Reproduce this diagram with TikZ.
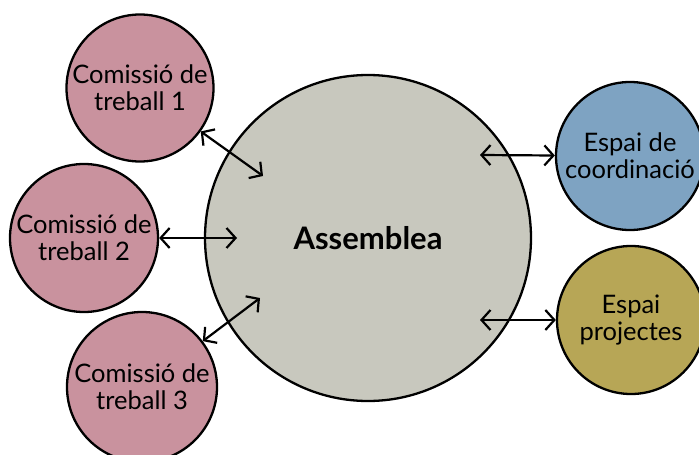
\documentclass[tikz,border=0pt]{standalone}
\usepackage{fontspec}
\setmainfont{Lato}
\usetikzlibrary{arrows.meta}
\definecolor{pinkc}{RGB}{201,146,158}
\definecolor{grayc}{RGB}{200,200,190}
\definecolor{bluec}{RGB}{126,163,194}
\definecolor{goldc}{RGB}{183,166,86}
\begin{document}
\begin{tikzpicture}[x=1pt,y=-1pt,
  bubble/.style={circle,draw=black,line width=2.3pt,inner sep=0pt,align=center,font=\fontsize{25.5}{27}\selectfont},
  link/.style={line width=2.2pt,{Straight Barb[length=9pt,width=20pt]}-{Straight Barb[length=9pt,width=20pt]}}]
\useasboundingbox (0,0) rectangle (699,455);
\clip (0,0) rectangle (699,455);
\node[bubble,fill=grayc,minimum size=326pt,font=\bfseries\fontsize{31}{34}\selectfont] (A) at (368,238) {Assemblea};
\node[bubble,fill=pinkc,minimum size=147pt] (C1) at (140,88) {Comissió de\\treball 1};
\node[bubble,fill=pinkc,minimum size=148pt] (C2) at (84,238) {Comissió de\\treball 2};
\node[bubble,fill=pinkc,minimum size=150pt] (C3) at (142,387) {Comissió de\\treball 3};
\node[bubble,fill=bluec,minimum size=148pt] (E1) at (630,156) {Espai de\\coordinació};
\node[bubble,fill=goldc,minimum size=148pt] (E2) at (631,320) {Espai\\projectes};
\coordinate (a1) at (263,176);
\coordinate (a2) at (237,238);
\coordinate (a3) at (260,298);
\coordinate (a4) at (480,155);
\coordinate (a5) at (480,320);
\draw[link] (C1) -- (a1);
\draw[link] (C2) -- (a2);
\draw[link] (C3) -- (a3);
\draw[link] (a4) -- (E1);
\draw[link] (a5) -- (E2);
\end{tikzpicture}
\end{document}
